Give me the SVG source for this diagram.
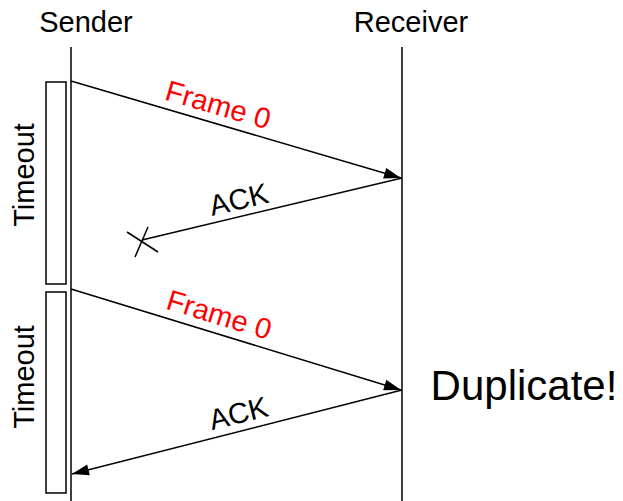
<svg xmlns="http://www.w3.org/2000/svg" width="623" height="501" viewBox="0 0 623 501">
  <style>
    .lbl { font-family: "Liberation Sans", Arial, sans-serif; font-size: 29px; fill: #000; text-anchor: middle; }
    .red { fill: #ff0000; }
    .big { font-size: 42px; }
    .ln { stroke: #000; stroke-width: 1.5; fill: none; }
    .box { stroke: #000; stroke-width: 1.5; fill: #fff; }
  </style>
  <defs>
    <marker id="arrow" markerUnits="userSpaceOnUse" markerWidth="20" markerHeight="14" viewBox="-18 -7 20 14" refX="0" refY="0" orient="auto">
      <path d="M0,0 L-17,-5.5 L-17,5.5 Z" fill="#000"/>
    </marker>
  </defs>

  <!-- lifelines -->
  <g id="sender">
    <text class="lbl" x="86" y="32">Sender</text>
    <line class="ln" x1="71" y1="47" x2="71" y2="501"/>
  </g>
  <g id="receiver">
    <text class="lbl" x="411" y="32">Receiver</text>
    <line class="ln" x1="402" y1="47" x2="402" y2="501"/>
  </g>

  <!-- timeout bars -->
  <g id="timeout1">
    <rect class="box" x="46" y="82" width="20" height="202"/>
    <text class="lbl" transform="translate(34,175) rotate(-90)">Timeout</text>
  </g>
  <g id="timeout2">
    <rect class="box" x="46" y="292" width="20" height="201"/>
    <text class="lbl" transform="translate(34,377) rotate(-90)">Timeout</text>
  </g>

  <g id="duplicate">
    <text class="lbl big" x="524" y="400">Duplicate!</text>
  </g>

  <!-- messages -->
  <g id="connectors">
    <g id="frame1">
      <line class="ln" x1="71" y1="81" x2="401" y2="178" marker-end="url(#arrow)"/>
      <text class="lbl red" transform="translate(213,122.6) rotate(16.33)" y="-8.5">Frame 0</text>
    </g>
    <g id="ack1">
      <line class="ln" x1="402" y1="178" x2="142" y2="240"/>
      <line class="ln" x1="127" y1="232" x2="158" y2="252"/>
      <line class="ln" x1="148" y1="227" x2="135" y2="257"/>
      <text class="lbl" transform="translate(242.7,216) rotate(-13.4)" y="-7">ACK</text>
    </g>
    <g id="frame2">
      <line class="ln" x1="71" y1="289" x2="401" y2="390" marker-end="url(#arrow)"/>
      <text class="lbl red" transform="translate(213.8,332.5) rotate(16.97)" y="-8.7">Frame 0</text>
    </g>
    <g id="ack2">
      <line class="ln" x1="402" y1="390" x2="72" y2="474" marker-end="url(#arrow)"/>
      <text class="lbl" transform="translate(242.7,430.4) rotate(-14.24)" y="-7.6">ACK</text>
    </g>
  </g>
</svg>
